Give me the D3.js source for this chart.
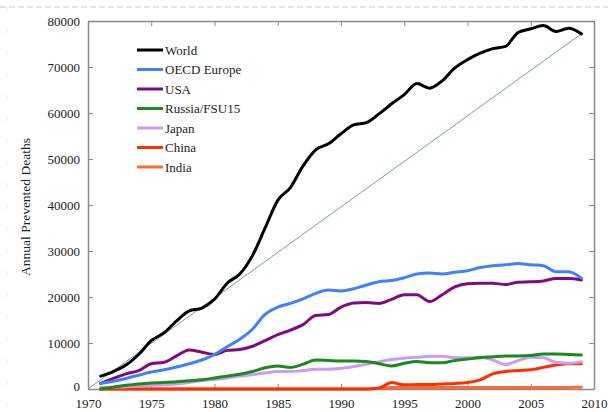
<!DOCTYPE html>
<html>
<head>
<meta charset="utf-8">
<script src="https://cdn.jsdelivr.net/npm/d3@7"></script>
<style>
  body { margin: 0; background: #fff; }
  svg { display: block; font-family: "Liberation Serif", "DejaVu Serif", serif; }
</style>
</head>
<body>
<svg id="chart" width="608" height="412"></svg>
<script>
const years = d3.range(1971, 2010);
const xTicks = [1970, 1975, 1980, 1985, 1990, 1995, 2000, 2005, 2010];
const yTicks = [0, 10000, 20000, 30000, 40000, 50000, 60000, 70000, 80000];

const world = [2800, 3800, 5200, 7500, 10500, 12200, 14800, 17000, 17600, 19500,
  23000, 25000, 29000, 35000, 41000, 43800, 48500, 52000, 53300, 55500,
  57400, 57900, 59800, 62000, 64000, 66400, 65400, 67000, 69800, 71600,
  73000, 74000, 74500, 77500, 78300, 79000, 77700, 78400, 77200];
const oecdEurope = [1200, 1700, 2300, 3000, 3700, 4200, 4800, 5500, 6300, 7500,
  9200, 10800, 13000, 16200, 17800, 18600, 19600, 20800, 21500, 21300,
  21800, 22600, 23300, 23600, 24200, 25000, 25200, 25000, 25400, 25700,
  26400, 26800, 27000, 27300, 27000, 26800, 25500, 25500, 24100];
const usa = [1200, 2300, 3300, 4000, 5500, 5800, 7200, 8500, 8000, 7500,
  8400, 8600, 9300, 10500, 11800, 12800, 14000, 16000, 16200, 17800,
  18700, 18800, 18600, 19500, 20500, 20500, 19000, 20500, 22200, 22900,
  23000, 23000, 22700, 23200, 23300, 23500, 24000, 24000, 23700];
const russia = [0, 400, 800, 1100, 1300, 1400, 1600, 1800, 2000, 2400,
  2800, 3200, 3800, 4600, 5000, 4700, 5400, 6300, 6200, 6100,
  6100, 6000, 5500, 5000, 5600, 6000, 5700, 5700, 6200, 6500,
  6800, 7000, 7200, 7200, 7300, 7600, 7600, 7500, 7400];
const japan = [300, 400, 500, 700, 800, 900, 1100, 1400, 1800, 2100,
  2400, 2800, 3100, 3500, 3800, 3800, 4000, 4300, 4300, 4500,
  4900, 5400, 5900, 6400, 6700, 6900, 7100, 7100, 6800, 6800,
  6900, 6300, 5300, 6200, 6900, 6800, 5800, 5600, 5900];
const china = [0, 0, 0, 0, 0, 0, 0, 0, 0, 0,
  0, 0, 0, 0, 0, 0, 0, 0, 0, 0,
  0, 0, 200, 1400, 900, 1000, 1000, 1100, 1200, 1400,
  2000, 3300, 3800, 4000, 4200, 4700, 5200, 5500, 5500];
const india = [0, 0, 0, 0, 0, 0, 0, 0, 0, 0,
  0, 0, 0, 0, 0, 0, 0, 0, 0, 0,
  0, 0, 100, 300, 300, 300, 300, 300, 300, 300,
  300, 300, 300, 300, 300, 300, 300, 350, 400];

const seriesNames = ["World", "OECD Europe", "USA", "Russia/FSU15", "Japan", "China", "India"];
const seriesValues = [world, oecdEurope, usa, russia, japan, china, india];
const seriesColors = ["#000000", "#4080ff", "#800a80", "#1a8a1a", "#cc9cf5", "#ff3000", "#ff6a30"];

// straight reference line from 1970 to the 2009 world value
const trendX = [1970, 2009];
const trendY = [0, 77200];

const margin = {left: 88, right: 14, top: 21, bottom: 23};
const width = 608, height = 412;
const svg = d3.select("#chart");

const x = d3.scaleLinear().domain([1970, 2010]).range([margin.left, width - margin.right]);
const y = d3.scaleLinear().domain([0, 80000]).range([height - margin.bottom, margin.top]);

// faint dashed scan borders
svg.append("line")
  .attr("x1", 0).attr("x2", width).attr("y1", 7).attr("y2", 7)
  .attr("stroke", "#bbb").attr("stroke-width", 0.8).attr("stroke-dasharray", "6,3");
svg.append("line")
  .attr("x1", 7).attr("x2", 7).attr("y1", 7).attr("y2", height)
  .attr("stroke", "#e4e4e4").attr("stroke-width", 0.8).attr("stroke-dasharray", "4,18");

const axisColor = "#8a8a8a";

const gx = svg.append("g")
  .attr("transform", `translate(0,${height - margin.bottom})`)
  .call(d3.axisBottom(x).tickValues(xTicks).tickFormat(d3.format("d")).tickSizeInner(-5).tickSizeOuter(0).tickPadding(10));
const gxTop = svg.append("g")
  .attr("transform", `translate(0,${margin.top})`)
  .call(d3.axisTop(x).tickValues(xTicks).tickFormat("").tickSizeInner(-5).tickSizeOuter(0));
const gy = svg.append("g")
  .attr("transform", `translate(${margin.left},0)`)
  .call(d3.axisLeft(y).tickValues(yTicks).tickFormat(d3.format("d")).tickSizeInner(-5).tickSizeOuter(0).tickPadding(8));
const gyRight = svg.append("g")
  .attr("transform", `translate(${width - margin.right},0)`)
  .call(d3.axisRight(y).tickValues(yTicks).tickFormat("").tickSizeInner(-5).tickSizeOuter(0));

[gx, gxTop, gy, gyRight].forEach(g => {
  g.select(".domain").attr("stroke", axisColor).attr("stroke-width", 1.5);
  g.selectAll(".tick line").attr("stroke", axisColor).attr("stroke-width", 1);
  g.selectAll("text").attr("fill", "#222").style("font-size", "13px")
    .style("font-family", "'Liberation Serif', serif");
});
// zero label sits a little high, as in the original
gy.selectAll(".tick text").filter(d => d === 0).attr("dy", "0.1em");

svg.append("text")
  .attr("transform", `translate(30,207) rotate(-90)`)
  .attr("text-anchor", "middle")
  .style("font-size", "13.5px")
  .attr("fill", "#222")
  .text("Annual Prevented Deaths");

// thin trend line
svg.append("line")
  .attr("x1", x(trendX[0])).attr("y1", y(trendY[0]))
  .attr("x2", x(trendX[1])).attr("y2", y(trendY[1]))
  .attr("stroke", "#6a8ab8").attr("stroke-width", 0.9);

const line = d3.line()
  .x((d, i) => x(years[i]))
  .y(d => y(d))
  .curve(d3.curveMonotoneX);

// draw lowest series first so World ends on top
for (let k = seriesNames.length - 1; k >= 0; k--) {
  svg.append("path")
    .datum(seriesValues[k])
    .attr("fill", "none")
    .attr("stroke", seriesColors[k])
    .attr("stroke-width", 3)
    .attr("stroke-linejoin", "round")
    .attr("stroke-linecap", "round")
    .attr("d", line);
}

// legend
const legend = svg.append("g").attr("transform", "translate(137,50)");
seriesNames.forEach((name, i) => {
  const row = legend.append("g").attr("transform", `translate(0,${i * 19.5})`);
  row.append("line")
    .attr("x1", 0).attr("x2", 26).attr("y1", 0).attr("y2", 0)
    .attr("stroke", seriesColors[i]).attr("stroke-width", 3);
  row.append("text")
    .attr("x", 28).attr("y", 0).attr("dy", "0.35em")
    .style("font-size", "13px")
    .attr("fill", "#222")
    .text(name);
});
</script>
</body>
</html>
